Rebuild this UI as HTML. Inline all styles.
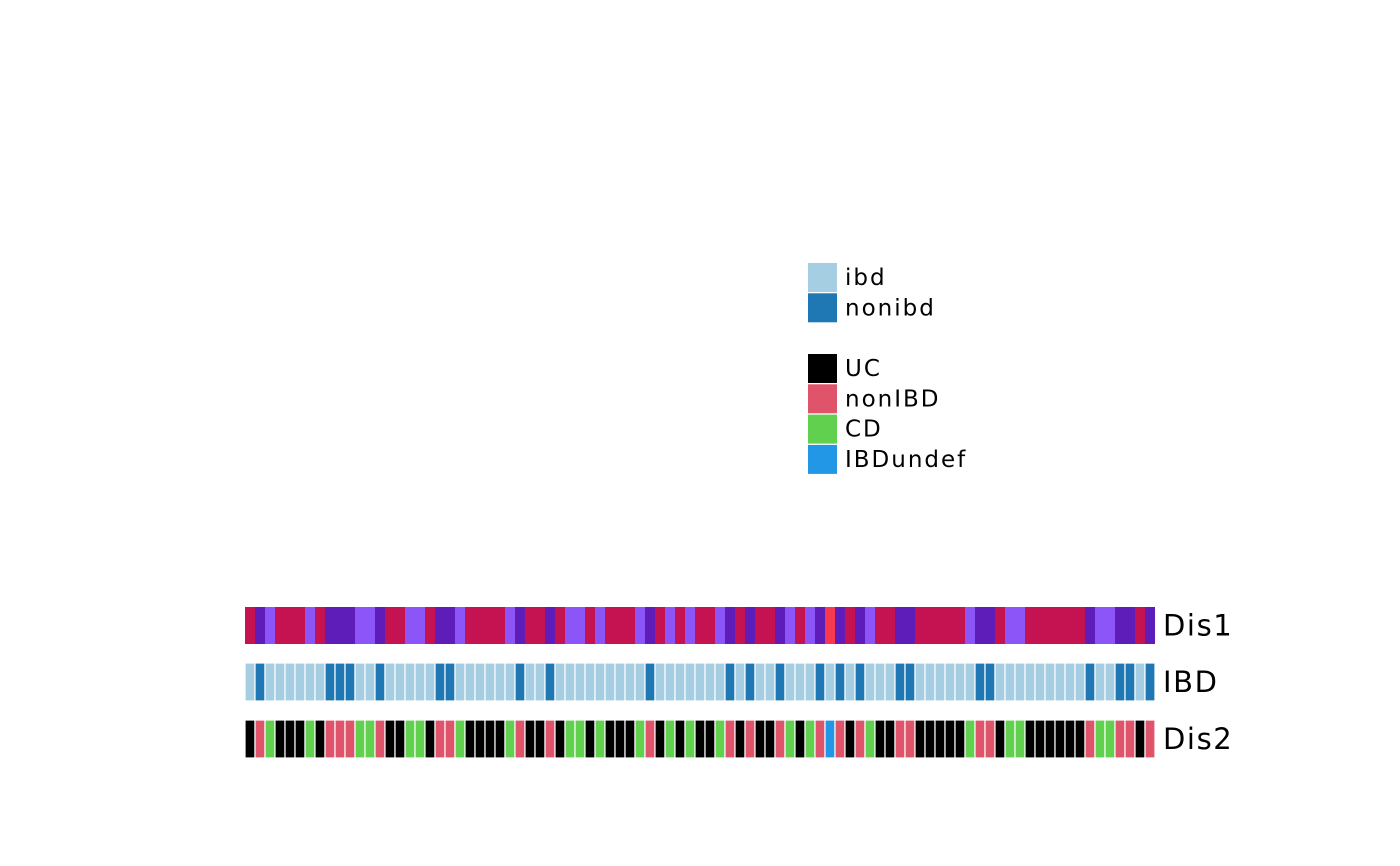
<!DOCTYPE html>
<html><head><meta charset="utf-8"><style>
html,body{margin:0;padding:0;background:#fff;width:1400px;height:866px;overflow:hidden;font-family:"DejaVu Sans","Liberation Sans",sans-serif}
</style></head><body>
<svg id="chart" width="1400" height="866">
<g id="legend"></g>
<g id="rows"></g>
</svg>
<script>
const dis1 = "RDLRRRLRDDDLLDRRLLRDDLRRRRLDRRDRLLRLRRRLDRLRLRRLDRDRRDLRLDXDRDLRRDDRRRRRLDDRLLRRRRRRDLLDDRD".split("");
const ibd = ("ld"+"llllll"+"ddd"+"ll"+"d"+"lllll"+"dd"+"llllll"+"d"+"ll"+"d"+"lllllllll"+"d"+"lllllll"+"d"+"l"+"d"+"ll"+"d"+"lll"+"d"+"l"+"d"+"l"+"d"+"lll"+"dd"+"llllll"+"dd"+"lllllllll"+"d"+"ll"+"dd"+"l"+"d").split("");
const dis2 = ("KPGKKKGKPPPGGPKKGGKPPGKKKKGPKK"+"PKGGKGKKKGPKGKGKKGPKPKKPGKGPBP"+"KPGKKPPKKKKKGPPKGGKKKKKKPGGPPKP").split("");
const legendIBD = ["ibd","nonibd"];
const legendDis2 = ["UC","nonIBD","CD","IBDundef"];
const rowLabels = ["Dis1","IBD","Dis2"];
</script>
<script>
const NS="http://www.w3.org/2000/svg";
const colDis1={R:"#C51250",D:"#5E1DB8",L:"#8B55F8",X:"#F53A50"};
const colIBD={l:"#A6CEE3",d:"#1F78B4"};
const colDis2={K:"#000000",P:"#DF536B",G:"#61D04F",B:"#2297E6"};
const x0=245, cw=910/91;
const rowsG=document.getElementById('rows');
function mk(t,a){const e=document.createElementNS(NS,t);for(const k in a)e.setAttribute(k,a[k]);return e;}
const specs=[{d:dis1,c:colDis1,y:607,h:37,gap:false},{d:ibd,c:colIBD,y:663,h:38,gap:true},{d:dis2,c:colDis2,y:720,h:38,gap:true}];
specs.forEach((s,ri)=>{
  const g=mk('g',{});
  
  
  s.d.slice(0,91).forEach((v,i)=>{
    const r=mk('rect',{x:x0+i*cw,y:s.y,width:cw,height:s.h,fill:s.c[v]||'#fff'});
    if(s.gap){r.setAttribute('stroke','#fff');r.setAttribute('stroke-width','1.2');}
    
    
    g.appendChild(r);
  });
  const t=mk('text',{x:1163,y:s.y+s.h/2+10,'font-size':29,'letter-spacing':1.6,fill:'#000'});
  t.textContent=rowLabels[ri];
  
  
  g.appendChild(t);
  rowsG.appendChild(g);
});
const lg=document.getElementById('legend');
function entry(label,color,y){
  const g=mk('g',{});
  
  
  g.appendChild(mk('rect',{x:808,y:y,width:29,height:29,fill:color}));
  const t=mk('text',{x:845,y:y+22,'font-size':23,'letter-spacing':2,fill:'#000'});
  t.textContent=label;g.appendChild(t);lg.appendChild(g);
}
const ibdCols=["#A6CEE3","#1F78B4"], d2Cols=["#000000","#DF536B","#61D04F","#2297E6"];
legendIBD.forEach((l,i)=>entry(l,ibdCols[i],263+i*30.3));
legendDis2.forEach((l,i)=>entry(l,d2Cols[i],354+i*30.3));
</script>
</body></html>
